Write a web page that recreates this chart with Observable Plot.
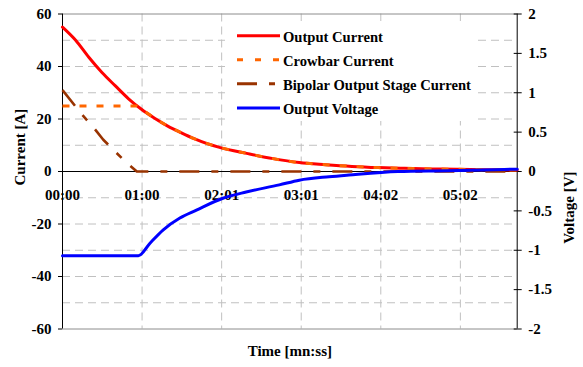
<!DOCTYPE html>
<html>
<head>
<meta charset="utf-8">
<script src="https://cdn.jsdelivr.net/npm/d3@7"></script>
<script src="https://cdn.jsdelivr.net/npm/@observablehq/plot@0.6"></script>
<style>
  html, body { margin: 0; padding: 0; background: #fff; }
  #wrap { position: relative; width: 583px; height: 367px; }
  #legend { position: absolute; left: 0; top: 0; pointer-events: none; }
</style>
</head>
<body>
<div id="wrap"></div>
<script>
// ---- axis definitions ----
const timeMax = 345.6; // seconds (0.004 day)
const timeTickSeconds = [0, 60.48, 120.96, 181.44, 241.92, 302.4];
const timeTickLabels = ["00:00", "01:00", "02:01", "03:01", "04:02", "05:02"];
const currentTicks = [-60, -40, -20, 0, 20, 40, 60];
const currentGrid = [-50, -40, -30, -20, -10, 10, 20, 30, 40, 50];
const voltageTicks = [-2, -1.5, -1, -0.5, 0, 0.5, 1, 1.5, 2];
const ampsPerVolt = 60 / 2; // left axis ±60 A <-> right axis ±2 V

// ---- series ----
const outputTime = [0, 10, 20, 30, 40, 50, 60, 70, 80, 90, 100, 110, 120, 140, 160, 180, 200, 220, 240, 260, 280, 300, 320, 345.6];
const outputCurrent = [55, 50, 43.5, 37.7, 32.7, 27.8, 23.7, 20.3, 17.3, 14.8, 12.5, 10.6, 9.1, 6.9, 4.9, 3.4, 2.6, 1.95, 1.5, 1.2, 1.0, 0.85, 0.7, 0.55];

const crowbarTime = [0, 56, 60, 70, 80, 90, 100, 110, 120, 140, 160, 180, 200, 220, 240, 260, 280, 300, 320, 345.6];
const crowbarCurrent = [25, 25, 23.7, 20.3, 17.3, 14.8, 12.5, 10.6, 9.1, 6.9, 4.9, 3.4, 2.6, 1.95, 1.5, 1.2, 1.0, 0.85, 0.7, 0.55];

const bipolarTime = [0, 10, 15, 24, 31, 40, 49, 56.5, 345.6];
const bipolarCurrent = [31, 24.7, 21.6, 16.5, 12.1, 7.6, 3.2, 0, 0];

const voltageTime = [0, 57.7, 66.5, 76.6, 89.2, 101.8, 121.9, 139.6, 164.8, 180, 202.6, 217.7, 255, 293, 345.6];
const outputVoltage = [-1.07, -1.07, -0.91, -0.74, -0.59, -0.49, -0.34, -0.26, -0.17, -0.11, -0.066, -0.044, 0, 0.01, 0.03];

const seriesNames = ["Output Current", "Crowbar Current", "Bipolar Output Stage Current", "Output Voltage"];
const seriesColors = ["#ff0000", "#ff6600", "#993300", "#0000ff"];
const seriesDash = [null, "7,10", "20,12,7,12", null];

// ---- tables ----
const zip = (ts, vs) => ts.map((t, i) => ({t, v: vs[i]}));
const outputData = zip(outputTime, outputCurrent);
const crowbarData = zip(crowbarTime, crowbarCurrent);
const bipolarData = zip(bipolarTime, bipolarCurrent);
const voltageData = zip(voltageTime, outputVoltage);
const rightTicks = voltageTicks.map(v => v * ampsPerVolt);

const font = "'Liberation Serif', 'Times New Roman', serif";

const chart = Plot.plot({
  width: 583,
  height: 367,
  marginLeft: 62,
  marginRight: 66.3,
  marginTop: 13.5,
  marginBottom: 38.5,
  style: {fontFamily: font, fontSize: "15px", fontWeight: "bold", color: "#000", background: "#fff"},
  x: {domain: [0, timeMax], axis: null},
  y: {domain: [-60, 60]},
  marks: [
    Plot.ruleY(currentGrid, {stroke: "#c0c0c0", strokeDasharray: "8,5"}),
    Plot.ruleX(timeTickSeconds.slice(1), {stroke: "#c0c0c0", strokeDasharray: "8,5"}),
    Plot.ruleY([-60, 60], {stroke: "#8c8c8c"}),
    Plot.ruleY([0], {stroke: "#000"}),
    Plot.ruleX([0, timeMax], {stroke: "#000"}),
    Plot.axisY({anchor: "left", ticks: currentTicks, tickSize: 4, tickPadding: 7, tickFormat: d => String(d), label: null}),
    Plot.axisY({anchor: "right", ticks: rightTicks, tickSize: 8, dx: -4, fill: "none", label: null}),
    Plot.axisY({anchor: "right", ticks: rightTicks, tickSize: 0, tickPadding: 11, tickFormat: d => String(d / ampsPerVolt), label: null}),
    Plot.text(timeTickSeconds, {x: d => d, y: 0, dy: 24, text: (d, i) => timeTickLabels[i], fill: "#000"}),
    Plot.line(outputData, {x: "t", y: "v", stroke: seriesColors[0], strokeWidth: 3, curve: "monotone-x"}),
    Plot.line(crowbarData, {x: "t", y: "v", stroke: seriesColors[1], strokeWidth: 3, strokeDasharray: seriesDash[1], strokeLinecap: "butt", curve: "monotone-x"}),
    Plot.line(bipolarData, {x: "t", y: "v", stroke: seriesColors[2], strokeWidth: 2.6, strokeDasharray: seriesDash[2], strokeLinecap: "butt"}),
    Plot.line(voltageData, {x: "t", y: d => d.v * ampsPerVolt, stroke: seriesColors[3], strokeWidth: 3, curve: "monotone-x"}),
    Plot.text(["Current [A]"], {frameAnchor: "left", dx: -42, dy: 14, rotate: -90, text: d => d, fill: "#000"}),
    Plot.text(["Voltage [V]"], {frameAnchor: "right", dx: 52, rotate: -90, text: d => d, fill: "#000"}),
    Plot.text(["Time [mn:ss]"], {frameAnchor: "bottom", dy: 26.5, text: d => d, fill: "#000"})
  ]
});

const wrap = document.getElementById("wrap");
wrap.appendChild(chart);

// ---- legend (overlay) ----
const leg = d3.select(wrap).append("svg")
  .attr("id", "legend").attr("width", 583).attr("height", 367);
leg.append("rect").attr("x", 225).attr("y", 21).attr("width", 252).attr("height", 100).attr("fill", "#fff");
const rowY = [36.7, 60.7, 84.7, 109];
seriesNames.forEach((name, i) => {
  const y = rowY[i] - 1;
  const ln = leg.append("line")
    .attr("x1", 237).attr("x2", i === 2 ? 275 : 280)
    .attr("y1", y).attr("y2", y)
    .attr("stroke", seriesColors[i]).attr("stroke-width", 3);
  if (seriesDash[i]) ln.attr("stroke-dasharray", i === 1 ? "6,12" : "20,12,7,12");
  leg.append("text")
    .attr("x", 283).attr("y", rowY[i] + 5)
    .attr("font-family", font).attr("font-size", "14.6px").attr("font-weight", "bold")
    .attr("fill", "#000").text(name);
});
</script>
</body>
</html>
